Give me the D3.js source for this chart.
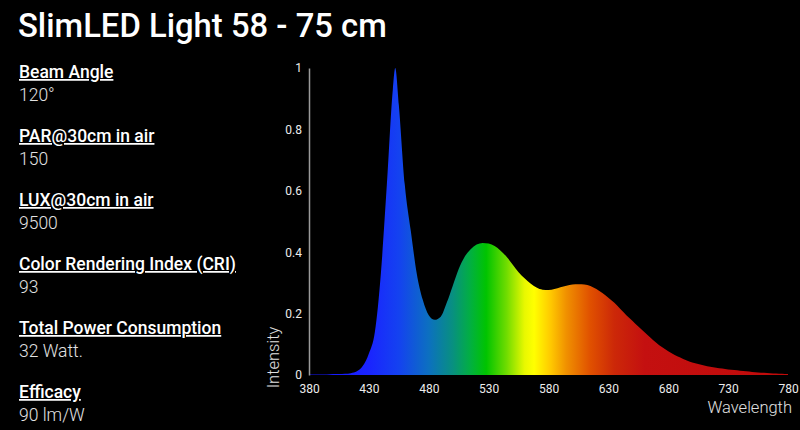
<!DOCTYPE html>
<html>
<head>
<meta charset="utf-8">
<script src="https://cdn.jsdelivr.net/npm/d3@7"></script>
<style>
  body { margin: 0; background: #000; }
  svg text { font-family: Roboto, "Noto Sans", sans-serif; }
</style>
</head>
<body>
<div id="chart"></div>
<script>
// spectrum (nm -> relative intensity)
var wavelengths = [380, 385, 390, 395, 400, 405, 410, 415, 420, 425, 430, 435, 440, 445, 450, 452, 455, 460, 465, 470, 475, 480, 485, 490, 495,
                   500, 505, 510, 515, 520, 525, 530, 535, 540, 545, 550, 555, 560, 565, 570, 575, 580, 585, 590, 595,
                   600, 605, 610, 615, 620, 625, 630, 635, 640, 645, 650, 655, 660, 665, 670, 675, 680, 685, 690, 695,
                   700, 705, 710, 715, 720, 725, 730, 735, 740, 745, 750, 755, 760, 765, 770, 775, 780];
var intensity = [0.002, 0.002, 0.002, 0.002, 0.003, 0.003, 0.004, 0.006, 0.012, 0.03, 0.07, 0.14, 0.33, 0.62, 0.93, 1.0, 0.88, 0.62, 0.47, 0.33, 0.245, 0.195, 0.18, 0.19, 0.235,
                 0.29, 0.345, 0.385, 0.41, 0.425, 0.43, 0.428, 0.42, 0.405, 0.385, 0.36, 0.335, 0.315, 0.298, 0.285, 0.278, 0.277, 0.28, 0.286, 0.291,
                 0.295, 0.296, 0.295, 0.29, 0.28, 0.267, 0.252, 0.235, 0.215, 0.195, 0.177, 0.158, 0.14, 0.122, 0.105, 0.09, 0.077, 0.066, 0.057, 0.048,
                 0.041, 0.036, 0.031, 0.027, 0.024, 0.021, 0.018, 0.016, 0.014, 0.012, 0.01, 0.008, 0.007, 0.006, 0.005, 0.004, 0.003];

var xTicks = [380, 430, 480, 530, 580, 630, 680, 730, 780];
var yTicks = [0, 0.2, 0.4, 0.6, 0.8, 1];

// gradient stops: wavelength and colour
var stopWl = [380, 430, 455, 480, 500, 515, 528, 545, 560, 568, 582, 595, 615, 635, 660, 780];
var stopColor = ["#1414ff", "#1a24ff", "#1442f0", "#0c70c0", "#089080", "#02b040", "#00c400", "#70dc00", "#e8f800", "#ffff00", "#ffc800", "#f09000", "#e05000", "#cc2808", "#c41010", "#c00a0a"];

var specTitles = ["Beam Angle", "PAR@30cm in air", "LUX@30cm in air", "Color Rendering Index (CRI)", "Total Power Consumption", "Efficacy"];
var specValues = ["120°", "150", "9500", "93", "32 Watt.", "90 lm/W"];

var width = 800, height = 430;

var svg = d3.select("#chart")
    .append("svg")
    .attr("width", width)
    .attr("height", height)
    .style("background", "#000");

// title
svg.append("text")
    .attr("x", 18)
    .attr("y", 37)
    .attr("fill", "#fff")
    .attr("font-size", 32.8)
    .attr("font-weight", 500)
    .text("SlimLED Light 58 - 75 cm");

// spec list on the left
var spec = svg.selectAll(".spec")
    .data(specTitles)
    .enter()
    .append("g")
    .attr("class", "spec")
    .attr("transform", function(d, i) { return "translate(19," + (78 + i * 64) + ")"; });

spec.append("text")
    .attr("fill", "#fff")
    .attr("font-size", 17.5)
    .attr("font-weight", 500)
    .attr("text-decoration", "underline")
    .text(function(d) { return d; });

spec.append("text")
    .attr("y", 22.5)
    .attr("fill", "#e2e2e2")
    .attr("font-size", 17.5)
    .attr("font-weight", 300)
    .text(function(d, i) { return specValues[i]; });

// scales
var x = d3.scaleLinear()
    .domain([380, 780])
    .range([309, 788]);

var y = d3.scaleLinear()
    .domain([0, 1])
    .range([375, 68]);

// gradient across the spectrum
var grad = svg.append("defs")
    .append("linearGradient")
    .attr("id", "spectrum")
    .attr("gradientUnits", "userSpaceOnUse")
    .attr("x1", x(380)).attr("x2", x(780))
    .attr("y1", 0).attr("y2", 0);

grad.selectAll("stop")
    .data(stopWl)
    .enter()
    .append("stop")
    .attr("offset", function(d) { return (d - 380) / 400; })
    .attr("stop-color", function(d, i) { return stopColor[i]; });

var area = d3.area()
    .x(function(d, i) { return x(wavelengths[i]); })
    .y0(y(0))
    .y1(function(d) { return y(d); })
    .curve(d3.curveMonotoneX);

svg.append("path")
    .datum(intensity)
    .attr("d", area)
    .attr("fill", "url(#spectrum)");

// y axis
var yAxis = svg.append("g")
    .attr("transform", "translate(" + x(380) + ",0)")
    .call(d3.axisLeft(y).tickValues(yTicks).tickFormat(function(d) { return String(d); }).tickSize(0).tickSizeOuter(0).tickPadding(7));

yAxis.select(".domain")
    .attr("stroke", "#9a9a9a")
    .attr("stroke-width", 1.5);

yAxis.selectAll("text")
    .attr("fill", "#ececec")
    .attr("font-size", 12)
    .attr("font-family", "Roboto, sans-serif");

// x axis
var xAxis = svg.append("g")
    .attr("transform", "translate(0," + y(0) + ")")
    .call(d3.axisBottom(x).tickValues(xTicks).tickSize(0).tickPadding(9));

xAxis.select(".domain").remove();

xAxis.selectAll("text")
    .attr("fill", "#ececec")
    .attr("font-size", 12)
    .attr("font-family", "Roboto, sans-serif");

// axis titles
svg.append("text")
    .attr("transform", "translate(279,357.5) rotate(-90)")
    .attr("text-anchor", "middle")
    .attr("fill", "#e0e0e0")
    .attr("font-size", 16.5)
    .attr("font-weight", 300)
    .text("Intensity");

svg.append("text")
    .attr("x", 792)
    .attr("y", 413)
    .attr("text-anchor", "end")
    .attr("fill", "#e0e0e0")
    .attr("font-size", 16.5)
    .attr("font-weight", 300)
    .text("Wavelength");
</script>
</body>
</html>
